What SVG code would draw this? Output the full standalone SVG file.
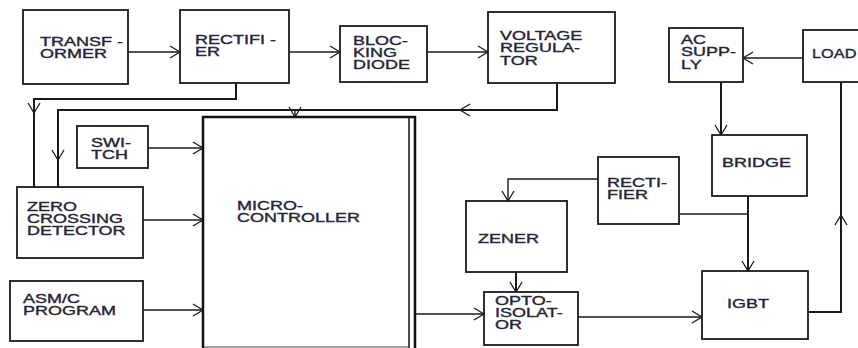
<svg xmlns="http://www.w3.org/2000/svg" width="858" height="348" viewBox="0 0 858 348">
<defs>
<style>
.box{fill:#fff;stroke:#1a1a1a;stroke-width:1.8}
.ln{fill:none;stroke:#1a1a1a;stroke-width:1.4}
.thk{fill:none;stroke:#1a1a1a;stroke-width:2}
.t{font-family:"Liberation Sans",Arial,sans-serif;font-size:12px;fill:#262636;stroke:#262636;stroke-width:0.35}
</style>
<marker id="arr" markerUnits="userSpaceOnUse" markerWidth="14" markerHeight="14" refX="12" refY="7" orient="auto" viewBox="0 0 14 14">
<path d="M2,1 L12,7 L2,13" fill="none" stroke="#1a1a1a" stroke-width="1.3"/>
</marker>
</defs>
<rect width="858" height="348" fill="#fff"/>

<g id="connectors">
<path class="ln" d="M128,52 H180" marker-end="url(#arr)"/>
<path class="ln" d="M289,52 H340" marker-end="url(#arr)"/>
<path class="ln" d="M427,52 H488" marker-end="url(#arr)"/>
<path class="thk" d="M236,83 V99 H34 V187"/>
<path class="ln" d="M34,99 V113" marker-end="url(#arr)"/>
<path class="thk" d="M557,83 V110 H58 V187"/>
<path class="ln" d="M480,110 H460" marker-end="url(#arr)"/>
<path class="ln" d="M58,140 V160" marker-end="url(#arr)"/>
<path class="ln" d="M295,110 V117" marker-end="url(#arr)"/>
<path class="ln" d="M148,148 H203" marker-end="url(#arr)"/>
<path class="ln" d="M143,220 H203" marker-end="url(#arr)"/>
<path class="ln" d="M143,310 H203" marker-end="url(#arr)"/>
<path class="ln" d="M414,314 H484" marker-end="url(#arr)"/>
<path class="thk" d="M516,272 V292" marker-end="url(#arr)"/>
<path class="ln" d="M598,179 H508 V201" marker-end="url(#arr)"/>
<path class="ln" d="M679,214 H748"/>
<path class="thk" d="M748,196 V271" marker-end="url(#arr)"/>
<path class="thk" d="M721,82 V135" marker-end="url(#arr)"/>
<path class="ln" d="M803,58 H743" marker-end="url(#arr)"/>
<path class="thk" d="M808,312 H841 V82"/>
<path class="ln" d="M841,235 V215" marker-end="url(#arr)"/>
<path class="ln" d="M578,317 H702" marker-end="url(#arr)"/>
</g>

<g id="transformer">
<rect class="box" x="23" y="10" width="105" height="74"/>
<text class="t" transform="matrix(1.5 0 0 1 40 46)"><tspan x="0">TRANSF -</tspan><tspan x="0" dy="12">ORMER</tspan></text>
</g>
<g id="rectifier">
<rect class="box" x="180" y="10" width="109" height="73"/>
<text class="t" transform="matrix(1.5 0 0 1 195 44)"><tspan x="0">RECTIFI -</tspan><tspan x="0" dy="12">ER</tspan></text>
</g>
<g id="blocking-diode">
<rect class="box" x="340" y="26" width="87" height="56"/>
<text class="t" transform="matrix(1.5 0 0 1 353 45)"><tspan x="0">BLOC-</tspan><tspan x="0" dy="12">KING</tspan><tspan x="0" dy="12">DIODE</tspan></text>
</g>
<g id="voltage-regulator">
<rect class="box" x="488" y="12" width="127" height="71"/>
<text class="t" transform="matrix(1.5 0 0 1 500 40)"><tspan x="0">VOLTAGE</tspan><tspan x="0" dy="12.5">REGULA-</tspan><tspan x="0" dy="12.5">TOR</tspan></text>
</g>
<g id="ac-supply">
<rect class="box" x="669" y="28" width="74" height="54"/>
<text class="t" transform="matrix(1.5 0 0 1 681 44)"><tspan x="0">AC</tspan><tspan x="0" dy="12.5">SUPP-</tspan><tspan x="0" dy="12.5">LY</tspan></text>
</g>
<g id="load">
<rect class="box" x="803" y="30" width="70" height="52"/>
<text class="t" transform="matrix(1.36 0 0 1 812 58)">LOAD</text>
</g>
<g id="switch">
<rect class="box" x="77" y="126" width="71" height="42"/>
<text class="t" transform="matrix(1.5 0 0 1 91 147)"><tspan x="0">SWI-</tspan><tspan x="0" dy="12">TCH</tspan></text>
</g>
<g id="zero-crossing-detector">
<rect class="box" x="17" y="187" width="126" height="71"/>
<text class="t" transform="matrix(1.5 0 0 1 27 211)"><tspan x="0">ZERO</tspan><tspan x="0" dy="12">CROSSING</tspan><tspan x="0" dy="12">DETECTOR</tspan></text>
</g>
<g id="asm-program">
<rect class="box" x="10" y="281" width="133" height="60"/>
<text class="t" transform="matrix(1.5 0 0 1 23 303)"><tspan x="0">ASM/C</tspan><tspan x="0" dy="12.5">PROGRAM</tspan></text>
</g>
<g id="microcontroller">
<path d="M203,348 V117 H415 V348" fill="#fff" stroke="#111" stroke-width="2.5"/>
<path d="M409,118 V348" fill="none" stroke="#111" stroke-width="1.5"/>
<path d="M203,347 H409" fill="none" stroke="#444" stroke-width="1.2"/>
<text class="t" transform="matrix(1.5 0 0 1 237 210)"><tspan x="0">MICRO-</tspan><tspan x="0" dy="12">CONTROLLER</tspan></text>
</g>
<g id="zener">
<rect class="box" x="466" y="201" width="101" height="71"/>
<text class="t" transform="matrix(1.5 0 0 1 478 243)">ZENER</text>
</g>
<g id="opto-isolator">
<rect class="box" x="484" y="292" width="94" height="53"/>
<text class="t" transform="matrix(1.5 0 0 1 495 305)"><tspan x="0">OPTO-</tspan><tspan x="0" dy="12">ISOLAT-</tspan><tspan x="0" dy="12">OR</tspan></text>
</g>
<g id="rectifier-2">
<rect class="box" x="598" y="157" width="81" height="67"/>
<text class="t" transform="matrix(1.5 0 0 1 607 187)"><tspan x="0">RECTI-</tspan><tspan x="0" dy="12">FIER</tspan></text>
</g>
<g id="bridge">
<rect class="box" x="712" y="135" width="95" height="61"/>
<text class="t" transform="matrix(1.5 0 0 1 722 167)">BRIDGE</text>
</g>
<g id="igbt">
<rect class="box" x="702" y="271" width="106" height="68"/>
<text class="t" transform="matrix(1.5 0 0 1 727 308)">IGBT</text>
</g>
</svg>
